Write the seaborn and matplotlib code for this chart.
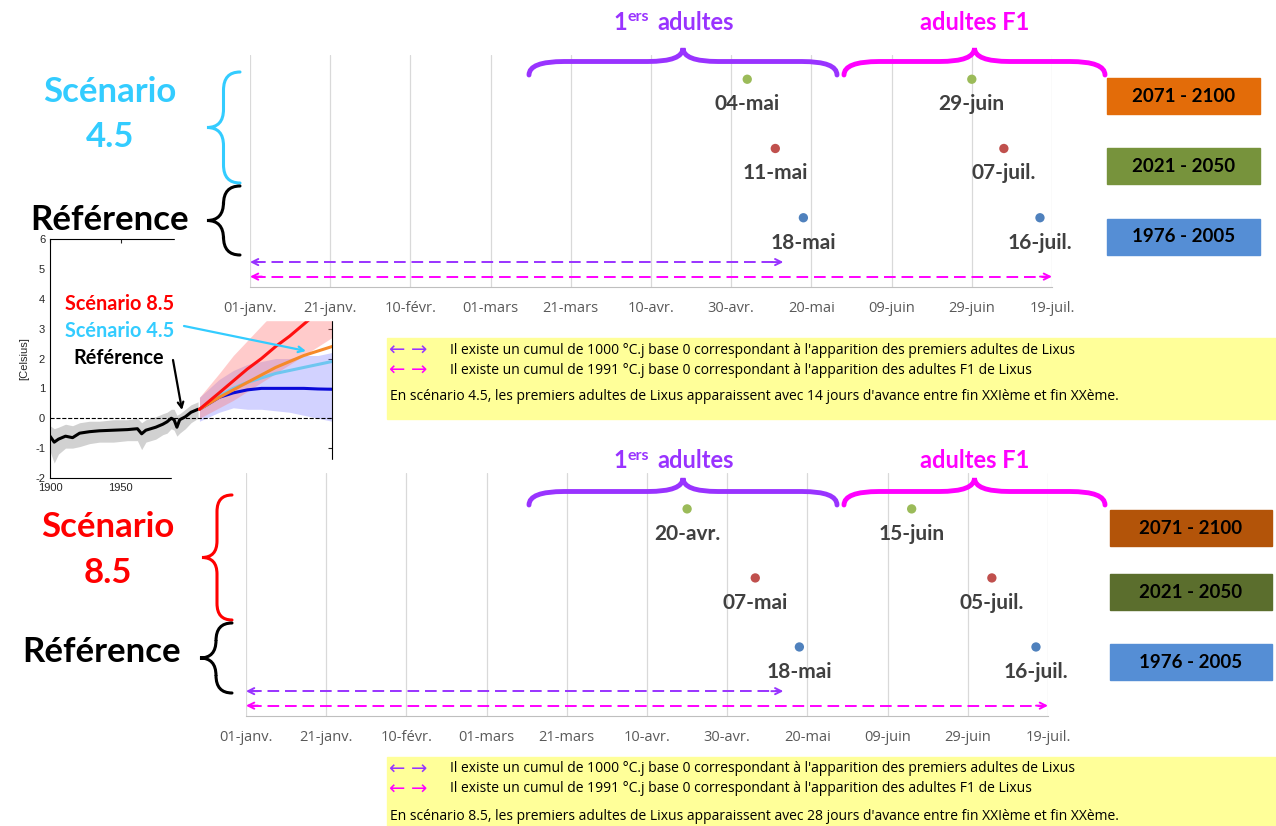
import numpy as np
import pandas as pd
import matplotlib.pyplot as plt
import seaborn as sns
from matplotlib.path import Path
from matplotlib.patches import PathPatch, Rectangle

# --- données : dates d'apparition (jour depuis le 01-janv., année bissextile) ---
periods = ['1976 - 2005', '2021 - 2050', '2071 - 2100']
period_colors = {'1976 - 2005': '#4F81BD', '2021 - 2050': '#C0504D', '2071 - 2100': '#9BBB59'}

rcp45_first = ['2000-05-18', '2000-05-11', '2000-05-04']
rcp45_first_lab = ['18-mai', '11-mai', '04-mai']
rcp45_f1 = ['2000-07-16', '2000-07-07', '2000-06-29']
rcp45_f1_lab = ['16-juil.', '07-juil.', '29-juin']

rcp85_first = ['2000-05-18', '2000-05-07', '2000-04-20']
rcp85_first_lab = ['18-mai', '07-mai', '20-avr.']
rcp85_f1 = ['2000-07-16', '2000-07-05', '2000-06-15']
rcp85_f1_lab = ['16-juil.', '05-juil.', '15-juin']

tick_days = list(range(0, 201, 20))
tick_labels = ['01-janv.', '21-janv.', '10-févr.', '01-mars', '21-mars', '10-avr.',
               '30-avr.', '20-mai', '09-juin', '29-juin', '19-juil.']

# cumul degrés-jours (flèches)
arrow45 = [133, 200]
arrow85 = [134, 200]

legend_top = ['#E36C09', '#77933C', '#558ED5']
legend_bot = ['#B35409', '#5B6E2D', '#558ED5']
legend_txt = ['2071 - 2100', '2021 - 2050', '1976 - 2005']

# --- encart : anomalies de température ---
ref_years = [1900, 1903, 1906, 1911, 1916, 1921, 1928, 1935, 1945, 1955, 1962, 1965,
             1968, 1975, 1980, 1983, 1986, 1988, 1990, 1992, 1996, 2000, 2005]
ref_mean = [-0.6, -0.8, -0.7, -0.6, -0.65, -0.5, -0.45, -0.42, -0.4, -0.38, -0.35, -0.52,
            -0.4, -0.3, -0.2, -0.12, 0.0, -0.05, -0.3, -0.05, 0.05, 0.2, 0.3]
ref_low = [-1.1, -1.5, -1.2, -1.0, -1.0, -0.95, -0.85, -0.8, -0.8, -0.75, -0.75, -1.05,
           -0.8, -0.7, -0.55, -0.5, -0.35, -0.4, -0.6, -0.5, -0.35, -0.15, 0.0]
ref_high = [-0.25, -0.35, -0.3, -0.2, -0.25, -0.15, -0.1, -0.1, -0.05, -0.05, 0.0, -0.15,
            -0.05, 0.05, 0.15, 0.2, 0.3, 0.3, 0.1, 0.15, 0.3, 0.45, 0.55]

proj_years = [2006, 2020, 2030, 2040, 2050, 2060, 2070, 2080, 2090, 2100]
rcp85_mean = [0.3, 0.85, 1.25, 1.65, 2.0, 2.4, 2.75, 3.15, 3.55, 3.95]
rcp85_low = [0.0, 0.35, 0.6, 0.9, 1.2, 1.5, 1.8, 2.1, 2.4, 2.7]
rcp85_high = [0.7, 1.5, 2.1, 2.6, 3.1, 3.6, 4.1, 4.6, 5.0, 5.4]
rcp45_mean = [0.3, 0.7, 0.95, 1.2, 1.45, 1.7, 1.9, 2.1, 2.25, 2.4]
rcp60_mean = [0.3, 0.75, 1.0, 1.2, 1.35, 1.5, 1.6, 1.7, 1.8, 1.9]
rcp26_mean = [0.3, 0.7, 0.85, 0.95, 1.0, 1.0, 1.0, 1.0, 0.98, 0.97]
rcp26_low = [-0.1, 0.2, 0.35, 0.3, 0.3, 0.25, 0.2, 0.1, 0.0, -0.1]
rcp26_high = [0.7, 1.3, 1.6, 1.8, 1.9, 2.0, 2.0, 2.1, 2.1, 2.2]

sns.set_style('white')
plt.rcParams['font.family'] = ['Lato', 'DejaVu Sans']
plt.rcParams['axes.unicode_minus'] = False
NARROW = ['Open Sans', 'DejaVu Sans']

W, H = 1276, 826
fig = plt.figure(figsize=(W / 100, H / 100), dpi=100)


def to_day(dates):
    return [pd.Timestamp(d).dayofyear - 1 for d in dates]


# ---------- encart ----------
ax_in = fig.add_axes([50 / W, 1 - 478 / H, 282 / W, 239 / H])
ax_in.fill_between(ref_years, ref_low, ref_high, color='#9a9a9a', alpha=0.45, lw=0)
ax_in.fill_between(proj_years, rcp26_low, rcp26_high, color='#7f7fff', alpha=0.35, lw=0)
ax_in.fill_between(proj_years, rcp85_low, rcp85_high, color='#ff7f7f', alpha=0.4, lw=0)
ax_in.axhline(0, color='k', ls='--', lw=0.8)
df_in = pd.concat([
    pd.DataFrame({'annee': ref_years, 'val': ref_mean, 'serie': 'ref'}),
    pd.DataFrame({'annee': proj_years, 'val': rcp26_mean, 'serie': 'rcp26'}),
    pd.DataFrame({'annee': proj_years, 'val': rcp60_mean, 'serie': 'rcp60'}),
    pd.DataFrame({'annee': proj_years, 'val': rcp45_mean, 'serie': 'rcp45'}),
    pd.DataFrame({'annee': proj_years, 'val': rcp85_mean, 'serie': 'rcp85'}),
])
sns.lineplot(data=df_in, x='annee', y='val', hue='serie', legend=False, ax=ax_in, lw=2.2,
             palette={'ref': 'black', 'rcp26': '#0a0ad8', 'rcp60': '#6ec6f0',
                      'rcp45': '#f58a2a', 'rcp85': '#ff1010'})
ax_in.set_xlim(1900, 2100)
ax_in.set_ylim(-2, 6)
ax_in.set_xticks([1900, 1950, 2000, 2050, 2100])
ax_in.set_yticks(range(-2, 7))
ax_in.set_xlabel('')
ax_in.set_ylabel('[Celsius]', fontsize=8, family='Liberation Sans')
for lab in ax_in.get_xticklabels() + ax_in.get_yticklabels():
    lab.set_family('Liberation Sans')
ax_in.tick_params(direction='in', top=True, right=True, labelsize=8, length=3, width=0.8)
for s in ax_in.spines.values():
    s.set_color('black')
    s.set_linewidth(0.8)
# zones masquées par les graphiques principaux
ax_in.add_patch(Rectangle((175 / W, 1 - 320 / H), 1, 320 / H, transform=fig.transFigure,
                          color='white', zorder=10, clip_on=False))
ax_in.add_patch(Rectangle((172 / W, 0), 1, 1 - 460 / H, transform=fig.transFigure,
                          color='white', zorder=10, clip_on=False))


# ---------- graphiques principaux ----------
def panel(rect, ylim, first, first_lab, f1, f1_lab, arrows):
    ax = fig.add_axes(rect)
    ax.patch.set_alpha(0)
    df = pd.DataFrame({'period': periods * 2,
                       'day': to_day(first) + to_day(f1),
                       'row': [1, 2, 3] * 2,
                       'lab': first_lab + f1_lab})
    sns.scatterplot(data=df, x='day', y='row', hue='period', palette=period_colors,
                    s=45, edgecolor='none', legend=False, ax=ax, zorder=3)
    for _, r in df.iterrows():
        ax.annotate(r['lab'], (r['day'], r['row']), xytext=(0, -18), textcoords='offset points',
                    ha='center', va='center', fontsize=15, weight='bold', color='#404040')
    for end, y, c in zip(arrows, [0.36, 0.15], ['#9933FF', '#FF00FF']):
        ax.plot([1, end - 1], [y, y], color=c, lw=1.4, ls=(0, (6, 3)))
        for a, b in [(3, 0), (end - 3, end)]:
            ax.annotate('', xy=(b, y), xytext=(a, y),
                        arrowprops=dict(arrowstyle='->', color=c, lw=1.4,
                                        shrinkA=0, shrinkB=0, mutation_scale=11))
    ax.set_xlim(0, 200)
    ax.set_ylim(*ylim)
    ax.set_xticks(tick_days)
    ax.set_xticklabels(tick_labels, family=NARROW, fontsize=10.5, color='#595959')
    ax.set_yticks([])
    ax.set_xlabel('')
    ax.set_ylabel('')
    ax.grid(axis='x', color='#D9D9D9', lw=0.9)
    ax.tick_params(axis='x', length=0, pad=10)
    for k in ['top', 'left', 'right']:
        ax.spines[k].set_visible(False)
    ax.spines['bottom'].set_color('#BFBFBF')
    return ax


panel([250 / W, 1 - 287 / H, 802 / W, 232 / H], (0, 3.35),
      rcp45_first, rcp45_first_lab, rcp45_f1, rcp45_f1_lab, arrow45)
panel([246 / W, 1 - 716 / H, 802 / W, 243 / H], (0, 3.52),
      rcp85_first, rcp85_first_lab, rcp85_f1, rcp85_f1_lab, arrow85)

# ---------- calque d'annotations (pixels) ----------
ov = fig.add_axes([0, 0, 1, 1])
ov.set_xlim(0, W)
ov.set_ylim(H, 0)
ov.axis('off')
ov.patch.set_alpha(0)


def brace_v(x_end, y0, y1, x_tip, color, lw=2.2):
    xm = (x_end + x_tip) / 2
    ym = (y0 + y1) / 2
    r = abs(x_end - x_tip) * 0.55
    verts = [(x_end, y0), (xm, y0), (xm, y0 + r), (xm, ym - r), (xm, ym), (x_tip, ym),
             (xm, ym), (xm, ym + r), (xm, y1 - r), (xm, y1), (x_end, y1)]
    codes = [Path.MOVETO, Path.CURVE3, Path.CURVE3, Path.LINETO, Path.CURVE3, Path.CURVE3,
             Path.CURVE3, Path.CURVE3, Path.LINETO, Path.CURVE3, Path.CURVE3]
    ov.add_patch(PathPatch(Path(verts, codes), fill=False, ec=color, lw=lw, capstyle='round'))


def brace_h(y_end, x0, x1, y_tip, color, lw=3.5):
    ym = (y_end + y_tip) / 2
    xm = (x0 + x1) / 2
    r = abs(y_end - y_tip) * 1.3
    verts = [(x0, y_end), (x0, ym), (x0 + r, ym), (xm - r, ym), (xm, ym), (xm, y_tip),
             (xm, ym), (xm + r, ym), (x1 - r, ym), (x1, ym), (x1, y_end)]
    codes = [Path.MOVETO, Path.CURVE3, Path.CURVE3, Path.LINETO, Path.CURVE3, Path.CURVE3,
             Path.CURVE3, Path.CURVE3, Path.LINETO, Path.CURVE3, Path.CURVE3]
    ov.add_patch(PathPatch(Path(verts, codes), fill=False, ec=color, lw=lw, capstyle='round'))


def stage_titles(y_txt, y_end, y_tip):
    ov.text(627, y_txt, '1', ha='right', va='center', fontsize=17, weight='bold', color='#9933FF')
    ov.text(628, y_txt - 5, 'ers', ha='left', va='center', fontsize=11.5, weight='bold', color='#9933FF')
    ov.text(657, y_txt, 'adultes', ha='left', va='center', fontsize=17, weight='bold', color='#9933FF')
    ov.text(975, y_txt, 'adultes F1', ha='center', va='center', fontsize=17, weight='bold', color='#FF00FF')
    brace_h(y_end, 529, 837, y_tip, '#9933FF')
    brace_h(y_end, 844, 1105, y_tip, '#FF00FF')


stage_titles(22, 75, 48)
stage_titles(461, 505, 478)

# étiquettes de gauche
big = dict(ha='center', va='center', fontsize=25, weight='bold')
ov.text(110, 92, 'Scénario', color='#33CCFF', **big)
ov.text(110, 137, '4.5', color='#33CCFF', **big)
ov.text(110, 220, 'Référence', color='black', **big)
ov.text(108, 527, 'Scénario', color='#FF0000', **big)
ov.text(108, 573, '8.5', color='#FF0000', **big)
ov.text(102, 652, 'Référence', color='black', **big)
brace_v(240, 72, 183, 207, '#33CCFF')
brace_v(240, 186, 255, 207, 'black')
brace_v(232, 495, 620, 202, '#FF0000')
brace_v(232, 623, 693, 200, 'black')

# légende des périodes
for cols, x0, w, ys in [(legend_top, 1107, 153, [96, 166, 237]),
                        (legend_bot, 1110, 162, [528, 592, 662])]:
    for c, t, y in zip(cols, legend_txt, ys):
        ov.add_patch(Rectangle((x0, y - 18), w, 36, color=c))
        ov.text(x0 + w / 2, y, t, ha='center', va='center', fontsize=13.5, weight='bold', color='black')

# annotations de l'encart
ov.text(65, 304, 'Scénario 8.5', ha='left', va='center', fontsize=14.3, weight='bold', color='#FF0000')
ov.text(65, 331, 'Scénario 4.5', ha='left', va='center', fontsize=14.3, weight='bold', color='#33CCFF')
ov.text(73, 358, 'Référence', ha='left', va='center', fontsize=14.3, weight='bold', color='black')
ov.annotate('', xy=(306, 351), xytext=(184, 326),
            arrowprops=dict(arrowstyle='->', color='#33CCFF', lw=1.6, shrinkA=0, shrinkB=0))
ov.annotate('', xy=(182, 410), xytext=(173, 360),
            arrowprops=dict(arrowstyle='->', color='black', lw=1.6, shrinkA=0, shrinkB=0))

# encadrés jaunes
notes = [(338, 81, 58, '4.5', '14'), (757, 69, 59, '8.5', '28')]
for y0, h, dy3, sc, nj in notes:
    ov.add_patch(Rectangle((387, y0), W - 387, h, color='#FFFF99'))
    l1, l2 = y0 + 12, y0 + 32
    for yy, c, txt in [(l1, '#9933FF', "Il existe un cumul de 1000 °C.j base 0 correspondant à l'apparition des premiers adultes de Lixus"),
                       (l2, '#FF00FF', "Il existe un cumul de 1991 °C.j base 0 correspondant à l'apparition des adultes F1 de Lixus")]:
        ov.text(388, yy, '←', ha='left', va='center', fontsize=14, color=c, family='DejaVu Sans')
        ov.text(411, yy, '→', ha='left', va='center', fontsize=14, color=c, family='DejaVu Sans')
        ov.text(450, yy, txt, ha='left', va='center', fontsize=10, color='black', family=NARROW)
    ov.text(390, y0 + dy3,
            f"En scénario {sc}, les premiers adultes de Lixus apparaissent avec {nj} jours d'avance entre fin XXIème et fin XXème.",
            ha='left', va='center', fontsize=10, color='black', family=NARROW)

fig.savefig('out.png', dpi=100)
